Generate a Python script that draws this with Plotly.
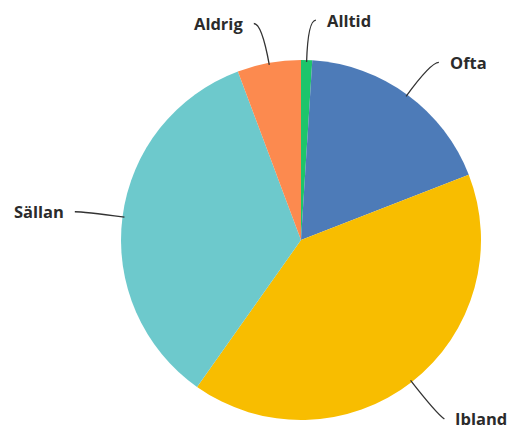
import math
import plotly.graph_objects as go

labels = ["Alltid", "Ofta", "Ibland", "Sällan", "Aldrig"]
values = [1.0, 18.1, 40.7, 34.5, 5.7]
colors = ["#1dc56b", "#4d7bb8", "#f8bd00", "#6dc9cc", "#fc8a4f"]

W, H = 510, 425
CX, CY, R = 301, 240, 180

def px(x, y):
    return x / W, 1 - y / H

fig = go.Figure(go.Pie(
    labels=labels, values=values, sort=False, direction="clockwise", rotation=0,
    marker=dict(colors=colors, line=dict(width=0)),
    textinfo="none", hoverinfo="label+percent", showlegend=False,
    domain=dict(x=[(CX - R) / W, (CX + R) / W], y=[1 - (CY + R) / H, 1 - (CY - R) / H]),
))

total = sum(values)
cum = 0
shapes, annotations = [], []
for lab, v in zip(labels, values):
    mid = (cum + v / 2) / total * 2 * math.pi
    cum += v
    dx, dy = math.sin(mid), -math.cos(mid)
    p0 = (CX + (R - 2) * dx, CY + (R - 2) * dy)
    p1 = (CX + (R + 40) * dx, CY + (R + 40) * dy)
    side = 1 if dx >= 0 else -1
    p2 = (p1[0] + side * 8, p1[1] + max(dy, 0) * 7)
    a, b, c = px(*p0), px(*p1), px(*p2)
    shapes.append(dict(type="path", xref="paper", yref="paper",
                       path=f"M {a[0]},{a[1]} Q {b[0]},{b[1]} {c[0]},{c[1]}",
                       line=dict(color="#333333", width=1.3)))
    t = px(p2[0] + side * 9, p2[1])
    annotations.append(dict(x=t[0], y=t[1], xref="paper", yref="paper", text=f"<b>{lab}</b>",
                            showarrow=False, xanchor="left" if side > 0 else "right", yanchor="middle",
                            font=dict(family="Open Sans", size=16.5, color="#2b2b2b")))

fig.update_layout(width=W, height=H, margin=dict(l=0, r=0, t=0, b=0),
                  paper_bgcolor="white", plot_bgcolor="white",
                  shapes=shapes, annotations=annotations)
fig.write_html("out.html", config={"displayModeBar": False},
               post_script="document.body.style.margin='0';document.body.style.overflow='hidden';")
